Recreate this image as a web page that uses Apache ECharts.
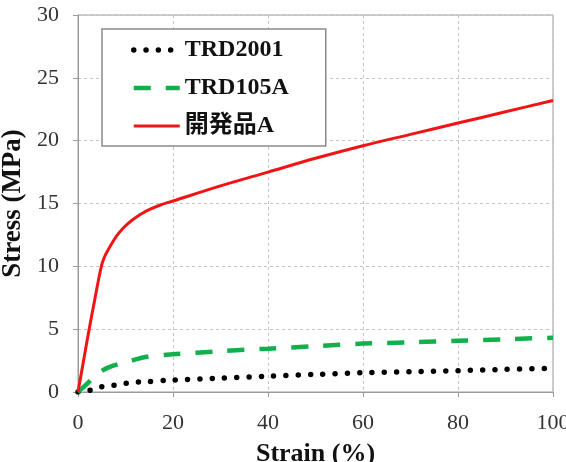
<!DOCTYPE html>
<html>
<head>
<meta charset="utf-8">
<script src="https://cdn.jsdelivr.net/npm/echarts@6/dist/echarts.min.js"></script>
<style>
  html, body { margin: 0; padding: 0; background: #fff; }
  #chart { width: 566px; height: 462px; }
</style>
</head>
<body>
<div id="chart"></div>
<script>
// Dữ liệu
var seriesNames = ['TRD2001', 'TRD105A', '開発品A'];

var strainA = [0, 1.5, 2.5, 3.6, 4.15, 4.6, 5.1, 5.7, 6.4, 7.4, 8.5, 9.8, 11.3, 13.2, 15.2, 17.5, 20, 30, 40, 50, 60, 70, 80, 90, 100];
var stressA = [0, 3.2, 5.3, 7.5, 8.6, 9.45, 10.25, 10.85, 11.35, 12.0, 12.6, 13.15, 13.65, 14.15, 14.55, 14.9, 15.2, 16.4, 17.5, 18.6, 19.6, 20.5, 21.4, 22.3, 23.2];

var strainB = [0, 1.5, 4.3, 6.7, 10.3, 14.5, 20, 30, 40, 50, 60, 70, 80, 90, 100];
var stressB = [0, 0.5, 1.5, 2.0, 2.4, 2.8, 3.0, 3.25, 3.45, 3.65, 3.85, 3.95, 4.08, 4.2, 4.32];

var strainC = [0, 2.2, 4.3, 6.9, 9.2, 11.6, 14.3, 20, 30, 40, 50, 60, 70, 80, 90, 100];
var stressC = [0, 0.1, 0.37, 0.5, 0.64, 0.77, 0.82, 0.95, 1.1, 1.25, 1.4, 1.53, 1.62, 1.7, 1.8, 1.88];

var xTicks = [0, 20, 40, 60, 80, 100];
var yTicks = [0, 5, 10, 15, 20, 25, 30];

function toPairs(xs, ys) {
    return xs.map(function (x, i) { return [x, ys[i]]; });
}

var chartDom = document.getElementById('chart');
var myChart = echarts.init(chartDom);

var serif = '"Liberation Serif", "Noto Sans CJK JP", serif';

var styleC = { color: '#000', width: 5.5, type: [0, 12.3], cap: 'round' };
var styleB = { color: '#12b04c', width: 4.5, type: [17, 15] };
var styleA = { color: '#f01414', width: 3 };

var option = {
    animation: false,
    grid: {
        left: 78, right: 13, top: 15, bottom: 70,
        outerBoundsMode: 'none',
        containLabel: false,
        show: true,
        borderColor: '#9a9a9a',
        borderWidth: 1
    },
    legend: {
        orient: 'vertical',
        left: 102,
        top: 29,
        data: [
            { name: seriesNames[0], lineStyle: styleC },
            { name: seriesNames[1], lineStyle: styleB },
            { name: seriesNames[2], lineStyle: styleA }
        ],
        itemWidth: 46,
        itemHeight: 14,
        itemGap: 14,
        padding: [9, 37, 8, 29],
        borderColor: '#8a8a8a',
        borderWidth: 1.5,
        backgroundColor: '#fff',
        itemStyle: { opacity: 0 },
        textStyle: {
            fontFamily: serif,
            fontSize: 24,
            fontWeight: 'bold',
            color: '#111',
            lineHeight: 24
        }
    },
    xAxis: {
        type: 'value',
        min: 0, max: 100, interval: 20,
        name: 'Strain (%)',
        nameLocation: 'middle',
        nameGap: 49,
        nameTextStyle: { fontFamily: serif, fontSize: 26, fontWeight: 'bold', color: '#111' },
        axisLine: { show: true, lineStyle: { color: '#9a9a9a' } },
        axisTick: { show: true, inside: false, length: 5, lineStyle: { color: '#9a9a9a' } },
        axisLabel: {
            fontFamily: serif, fontSize: 22, color: '#333', margin: 20,
            formatter: function (v) { return xTicks.indexOf(v) >= 0 ? String(v) : ''; }
        },
        splitLine: { show: true, lineStyle: { color: '#c4c4c4', type: [3, 3] } }
    },
    yAxis: {
        type: 'value',
        min: 0, max: 30, interval: 5,
        name: 'Stress (MPa)',
        nameLocation: 'middle',
        nameGap: 48,
        nameTextStyle: { fontFamily: serif, fontSize: 27, fontWeight: 'bold', color: '#111' },
        axisLine: { show: true, lineStyle: { color: '#9a9a9a' } },
        axisTick: { show: true, inside: false, length: 5, lineStyle: { color: '#9a9a9a' } },
        axisLabel: {
            fontFamily: serif, fontSize: 22, color: '#333', margin: 19,
            formatter: function (v) { return yTicks.indexOf(v) >= 0 ? String(v) : ''; }
        },
        splitLine: { show: true, lineStyle: { color: '#c4c4c4', type: [3, 3] } }
    },
    series: [
        {
            name: seriesNames[0],
            type: 'line',
            data: toPairs(strainC, stressC),
            symbol: 'none',
            smooth: 0.3,
            z: 3,
            lineStyle: styleC,
            itemStyle: { color: '#000' }
        },
        {
            name: seriesNames[1],
            type: 'line',
            data: toPairs(strainB, stressB),
            symbol: 'none',
            smooth: 0.3,
            z: 4,
            lineStyle: styleB,
            itemStyle: { color: '#12b04c' }
        },
        {
            name: seriesNames[2],
            type: 'line',
            data: toPairs(strainA, stressA),
            symbol: 'none',
            smooth: 0.3,
            z: 5,
            lineStyle: styleA,
            itemStyle: { color: '#f01414' }
        }
    ]
};

myChart.setOption(option);
</script>
</body>
</html>
